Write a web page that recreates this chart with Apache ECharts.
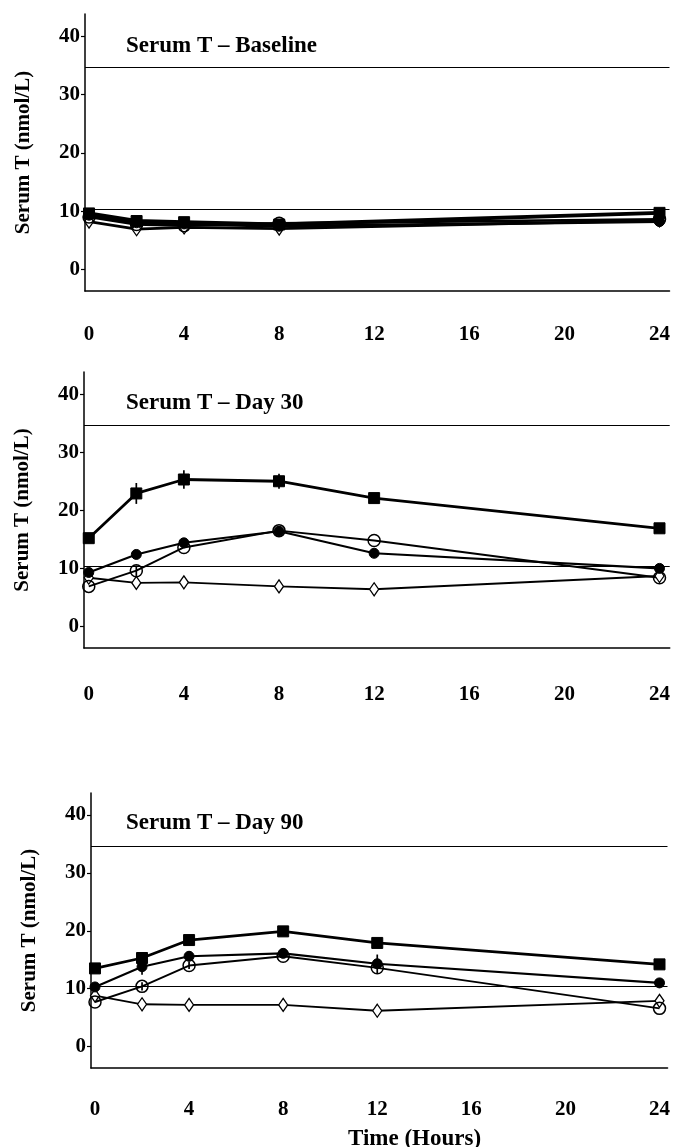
<!DOCTYPE html>
<html>
<head>
<meta charset="utf-8">
<script src="https://cdn.jsdelivr.net/npm/echarts@6/dist/echarts.min.js"></script>
<style>
html,body{margin:0;padding:0;background:#fff;}
#c{width:673px;height:1147px;}
</style>
</head>
<body>
<div id="c"></div>
<script>
// ---------- DATA ----------
const panelTitles = ['Serum T \u2013 Baseline', 'Serum T \u2013 Day 30', 'Serum T \u2013 Day 90'];
const xTickLabels = [0, 4, 8, 12, 16, 20, 24];
const yTickLabels = [0, 10, 20, 30, 40];
const refLow = 10.4;
const refHigh = 34.6;

// Baseline
const baseTimes = [0, 2, 4, 8, 24];
const baseSquares = [9.6, 8.3, 8.1, 7.7, 9.7];
const baseFilled  = [9.3, 8.0, 7.8, 7.4, 8.2];
const baseOpen    = [9.0, 7.7, 7.5, 7.9, 8.6];
const baseDiamond = [8.2, 6.9, 7.2, 7.0, 8.4];

// Day 30
const d30Times = [0, 2, 4, 8, 12, 24];
const d30Squares = [15.2, 22.9, 25.3, 25.0, 22.1, 16.9];
const d30Filled  = [9.3, 12.4, 14.4, 16.4, 12.6, 10.0];
const d30Open    = [6.9, 9.6, 13.6, 16.5, 14.8, 8.4];
const d30Diamond = [8.4, 7.5, 7.6, 6.9, 6.4, 8.7];
const d30SquaresErr = [0, 1.8, 1.6, 1.3, 0, 0];
const d30FilledErr  = [0, 0, 0, 0.9, 0, 0];
const d30OpenErr    = [0, 0.9, 0, 0, 0, 0];

// Day 90
const d90Times = [0, 2, 4, 8, 12, 24];
const d90Squares = [13.5, 15.3, 18.4, 19.9, 17.9, 14.2];
const d90Filled  = [10.3, 13.8, 15.6, 16.1, 14.3, 11.0];
const d90Open    = [7.7, 10.4, 14.0, 15.6, 13.6, 6.6];
const d90Diamond = [8.8, 7.3, 7.2, 7.2, 6.2, 7.9];
const d90FilledErr = [0, 1.4, 0.9, 0.8, 1.6, 0];
const d90OpenErr   = [0, 0.7, 0.6, 0, 0, 0];

// ---------- CHART ----------
const FONT = 'Liberation Serif';
const grids = [
  {left: 85, top: 14, width: 586, height: 277},
  {left: 84, top: 372, width: 587, height: 276},
  {left: 91, top: 793, width: 582, height: 275}
];
const xRanges = [[-0.17, 24.42], [-0.2, 24.43], [-0.17, 24.34]];
const xLabelMargins = [33, 36, 31];
const lineScale = [1.4, 1, 1];

const panels = [
  {times: baseTimes, sq: baseSquares, fc: baseFilled, oc: baseOpen, di: baseDiamond, err: []},
  {times: d30Times, sq: d30Squares, fc: d30Filled, oc: d30Open, di: d30Diamond,
   err: [[d30Squares, d30SquaresErr], [d30Filled, d30FilledErr], [d30Open, d30OpenErr]]},
  {times: d90Times, sq: d90Squares, fc: d90Filled, oc: d90Open, di: d90Diamond,
   err: [[d90Filled, d90FilledErr], [d90Open, d90OpenErr]]}
];

const xAxes = [], yAxes = [], series = [], titles = [];
const titleTops = [30, 387, 807];

panels.forEach((p, i) => {
  const ls = lineScale[i];
  xAxes.push({
    type: 'value', gridIndex: i, min: xRanges[i][0], max: xRanges[i][1],
    axisLine: {show: true, onZero: false, lineStyle: {color: '#000', width: 1.6}},
    axisTick: {show: false},
    splitLine: {show: false},
    axisLabel: {customValues: xTickLabels, color: '#000', fontFamily: FONT, fontWeight: 'bold', fontSize: 21, margin: xLabelMargins[i]}
  });
  yAxes.push({
    type: 'value', gridIndex: i, min: -3.7, max: 43.8,
    axisLine: {show: true, onZero: false, lineStyle: {color: '#000', width: 1.5}},
    axisTick: {show: true, customValues: yTickLabels, length: 4, lineStyle: {color: '#000', width: 1.2}},
    splitLine: {show: false},
    axisLabel: {customValues: yTickLabels, color: '#000', fontFamily: FONT, fontWeight: 'bold', fontSize: 21, margin: 5},
    name: 'Serum T (nmol/L)', nameLocation: 'middle', nameGap: 51,
    nameTextStyle: {color: '#000', fontFamily: FONT, fontWeight: 'bold', fontSize: 21}
  });
  const mk = arr => p.times.map((t, k) => [t, arr[k]]);
  const common = {xAxisIndex: i, yAxisIndex: i, type: 'line', animation: false, z: 3};
  series.push(Object.assign({}, common, {
    name: 'diamond' + i, data: mk(p.di), symbol: 'diamond', symbolSize: [9, 13],
    lineStyle: {color: '#000', width: 1.9 * ls}, itemStyle: {color: '#fff', borderColor: '#000', borderWidth: 1.3},
    markLine: {silent: true, symbol: 'none', label: {show: false},
      lineStyle: {color: '#000', width: 1.1, type: 'solid'},
      data: [{yAxis: refLow}, {yAxis: refHigh}]}
  }));
  series.push(Object.assign({}, common, {
    name: 'open' + i, data: mk(p.oc), symbol: 'circle', symbolSize: 12,
    lineStyle: {color: '#000', width: 1.9 * ls}, itemStyle: {color: 'rgba(255,255,255,0)', borderColor: '#000', borderWidth: 1.5}
  }));
  series.push(Object.assign({}, common, {
    name: 'filled' + i, data: mk(p.fc), symbol: 'circle', symbolSize: 10,
    lineStyle: {color: '#000', width: 2.1 * ls}, itemStyle: {color: '#000', borderColor: '#000'}
  }));
  series.push(Object.assign({}, common, {
    name: 'square' + i, data: mk(p.sq), symbol: 'rect', symbolSize: 11,
    lineStyle: {color: '#000', width: 2.8 * ls}, itemStyle: {color: '#000', borderColor: '#000'}
  }));
  const errData = [];
  p.err.forEach(([vals, errs]) => {
    p.times.forEach((t, k) => { if (errs[k] > 0) errData.push([t, vals[k] - errs[k], vals[k] + errs[k]]); });
  });
  if (errData.length) {
    series.push({
      type: 'custom', xAxisIndex: i, yAxisIndex: i, z: 4, animation: false, data: errData,
      renderItem: (params, api) => {
        const a = api.coord([api.value(0), api.value(1)]);
        const b = api.coord([api.value(0), api.value(2)]);
        return {type: 'line', shape: {x1: a[0], y1: a[1], x2: b[0], y2: b[1]}, style: {stroke: '#000', lineWidth: 1.7}};
      }
    });
  }
  titles.push({text: panelTitles[i], left: 121, top: titleTops[i],
    textStyle: {color: '#000', fontFamily: FONT, fontWeight: 'bold', fontSize: 23}});
});
titles.push({text: 'Time (Hours)', left: 343, top: 1123,
  textStyle: {color: '#000', fontFamily: FONT, fontWeight: 'bold', fontSize: 23}});

const chart = echarts.init(document.getElementById('c'), null, {renderer: 'canvas'});
chart.setOption({
  backgroundColor: '#fff',
  animation: false,
  title: titles,
  grid: grids,
  xAxis: xAxes,
  yAxis: yAxes,
  series: series
});
</script>
</body>
</html>
